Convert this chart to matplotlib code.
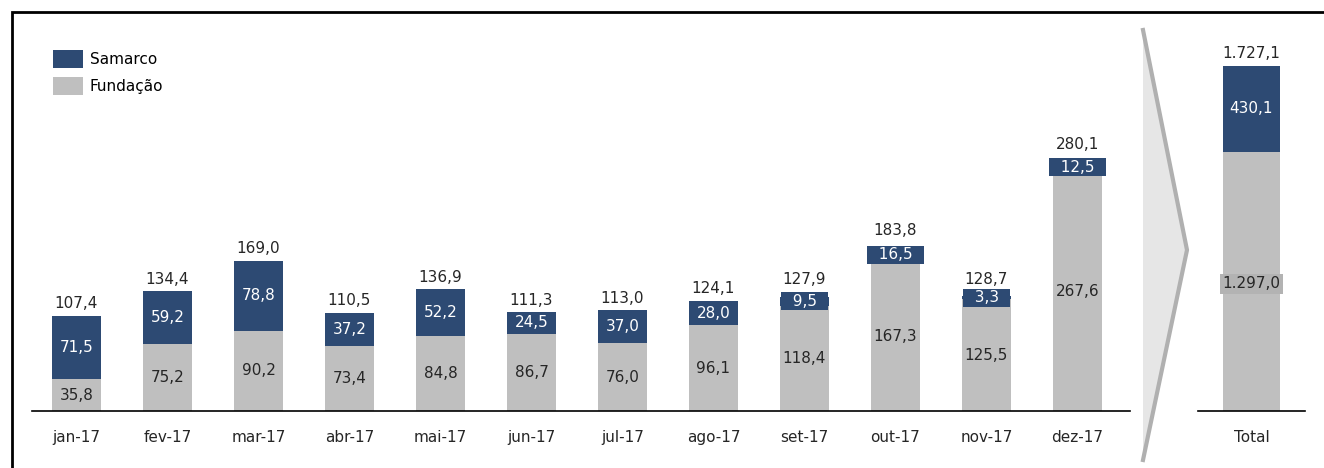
import matplotlib
matplotlib.use("Agg")
import matplotlib.pyplot as plt
from matplotlib.patches import Polygon, Rectangle
from matplotlib.lines import Line2D

plt.rcParams['font.family'] = ['DejaVu Sans']

# data
months = ["jan-17", "fev-17", "mar-17", "abr-17", "mai-17", "jun-17",
          "jul-17", "ago-17", "set-17", "out-17", "nov-17", "dez-17"]
fundacao = [35.8, 75.2, 90.2, 73.4, 84.8, 86.7, 76.0, 96.1, 118.4, 167.3, 125.5, 267.6]
samarco = [71.5, 59.2, 78.8, 37.2, 52.2, 24.5, 37.0, 28.0, 9.5, 16.5, 3.3, 12.5]
totals = [107.4, 134.4, 169.0, 110.5, 136.9, 111.3, 113.0, 124.1, 127.9, 183.8, 128.7, 280.1]
total_fundacao = 1297.0
total_samarco = 430.1
total_all = 1727.1

navy = "#2d4a73"
grey = "#bfbfbf"
txt = "#262626"
fs = 11
W, H = 1324, 468


def fmt(v):
    s = f"{v:,.1f}"
    return s.replace(",", "X").replace(".", ",").replace("X", ".")


fig = plt.figure(figsize=(W / 100, H / 100), dpi=100)

# frame around the picture
fig.add_artist(Rectangle((12 / W, -0.01), 1.2, 1 - 12 / H + 0.01, transform=fig.transFigure,
                         fill=False, edgecolor="black", lw=2))

# monthly panel
ax = fig.add_axes([32 / W, 57 / H, 1098 / W, 391 / H])
x = list(range(len(months)))
b1 = ax.bar(x, fundacao, width=0.54, color=grey, label="Fundação")
b2 = ax.bar(x, samarco, width=0.54, bottom=fundacao, color=navy, label="Samarco")
ax.set_xlim(-0.489, 11.577)
ax.set_ylim(0, 391 / 0.89)

for i in x:
    ax.text(i, fundacao[i] / 2, fmt(fundacao[i]), ha="center", va="center",
            fontsize=fs, color=txt)
    small = samarco[i] < 20
    if small:
        # narrow segment: label sits in a navy box as wide as the bar
        ax.text(i, fundacao[i] + samarco[i] / 2, "  " + fmt(samarco[i]) + "  ", ha="center",
                va="center", fontsize=fs, color="white",
                bbox=dict(boxstyle="square,pad=0.1", fc=navy, ec="none"))
    else:
        ax.text(i, fundacao[i] + samarco[i] / 2, fmt(samarco[i]), ha="center", va="center",
                fontsize=fs, color="white")
    ax.annotate(fmt(totals[i]), (i, totals[i]), xytext=(0, 7 if small else 3),
                textcoords="offset points", ha="center", va="bottom", fontsize=fs, color=txt)

ax.set_xticks(x)
ax.set_xticklabels(months, fontsize=fs, color=txt)
ax.tick_params(axis="x", length=0, pad=14)
ax.set_yticks([])
for s in ["top", "left", "right"]:
    ax.spines[s].set_visible(False)
ax.spines["bottom"].set_linewidth(1.2)

ax.legend(handles=[b2, b1], loc="upper left", bbox_to_anchor=(53 / W, 1 - 50 / H),
          bbox_transform=fig.transFigure, frameon=False, fontsize=11,
          handlelength=1.95, handleheight=1.45, labelspacing=0.6, handletextpad=0.45,
          borderpad=0, borderaxespad=0)

# chevron separator
chev = [(1143, 30), (1187, 250), (1143, 460)]
fig.add_artist(Polygon([(px / W, 1 - py / H) for px, py in chev], closed=True,
                       transform=fig.transFigure, fc="#e6e6e6", ec="none"))
fig.add_artist(Line2D([1143 / W, 1187 / W, 1143 / W], [1 - 30 / H, 1 - 250 / H, 1 - 460 / H],
                      transform=fig.transFigure, color="#b0b0b0", lw=3))

# total panel
ax2 = fig.add_axes([1198 / W, 57 / H, 107 / W, 391 / H])
ax2.bar([0], [total_fundacao], width=0.54, color=grey)
ax2.bar([0], [total_samarco], width=0.54, bottom=[total_fundacao], color=navy)
ax2.set_xlim(-0.5, 0.5)
ax2.set_ylim(0, 391 / 0.2)
ax2.text(0, total_fundacao * 0.49, fmt(total_fundacao), ha="center", va="center",
         fontsize=fs, color=txt,
         bbox=dict(boxstyle="square,pad=0.15", fc="#b3b3b3", ec="none"))
ax2.text(0, total_fundacao + total_samarco / 2, fmt(total_samarco), ha="center",
         va="center", fontsize=fs, color="white")
ax2.annotate(fmt(total_all), (0, total_all), xytext=(0, 3), textcoords="offset points",
             ha="center", va="bottom", fontsize=fs, color=txt)
ax2.set_xticks([0])
ax2.set_xticklabels(["Total"], fontsize=fs, color=txt)
ax2.tick_params(axis="x", length=0, pad=14)
ax2.set_yticks([])
for s in ["top", "left", "right"]:
    ax2.spines[s].set_visible(False)
ax2.spines["bottom"].set_linewidth(1.2)

fig.savefig("out.png", dpi=100)
